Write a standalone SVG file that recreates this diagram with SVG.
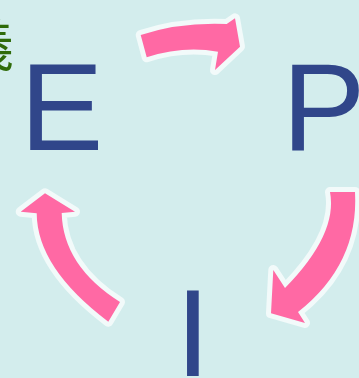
<svg xmlns="http://www.w3.org/2000/svg" width="359" height="378" viewBox="0 0 359 378">
<style>
.bg{fill:#d3eded}
.arrow{fill:#ff69a4;stroke:#f2fafa;stroke-width:10;stroke-linejoin:round;paint-order:stroke}
.big{font-family:"Liberation Sans",Arial,sans-serif;font-size:125px;fill:#30468a}
.jp{font-family:"Noto Sans CJK JP","Noto Sans CJK SC",sans-serif;font-size:56px;fill:#2f6b0a}
</style>
<rect class="bg" x="0" y="0" width="359" height="378"/>
<g id="label-gi"><text class="jp" x="14" y="66" text-anchor="end">義</text></g>
<g id="node-E"><text class="big" x="20" y="150">E</text></g>
<g id="node-P"><text class="big" x="282" y="150">P</text></g>
<g id="node-I"><text class="big" x="175.5" y="376">I</text></g>
<g id="connectors">
<path class="arrow" d="M140.7 35 Q180 22 226.7 24 L235 18.3 L240 46.7 L215 70 L218 51.7 Q183 45.5 146.7 57.3 Z"/>
<path class="arrow" d="M330 192 L355 192 Q359 264 298 312 L305 323 L271 313.3 L273.3 270 L285 288 Q338 234 330 192 Z"/>
<path class="arrow" d="M45 193.3 L75 211.7 L61.7 213 Q63 266 120 302 L108.3 321.7 Q37 268 36.7 213.3 L20.7 211.7 Z"/>
</g>
</svg>
